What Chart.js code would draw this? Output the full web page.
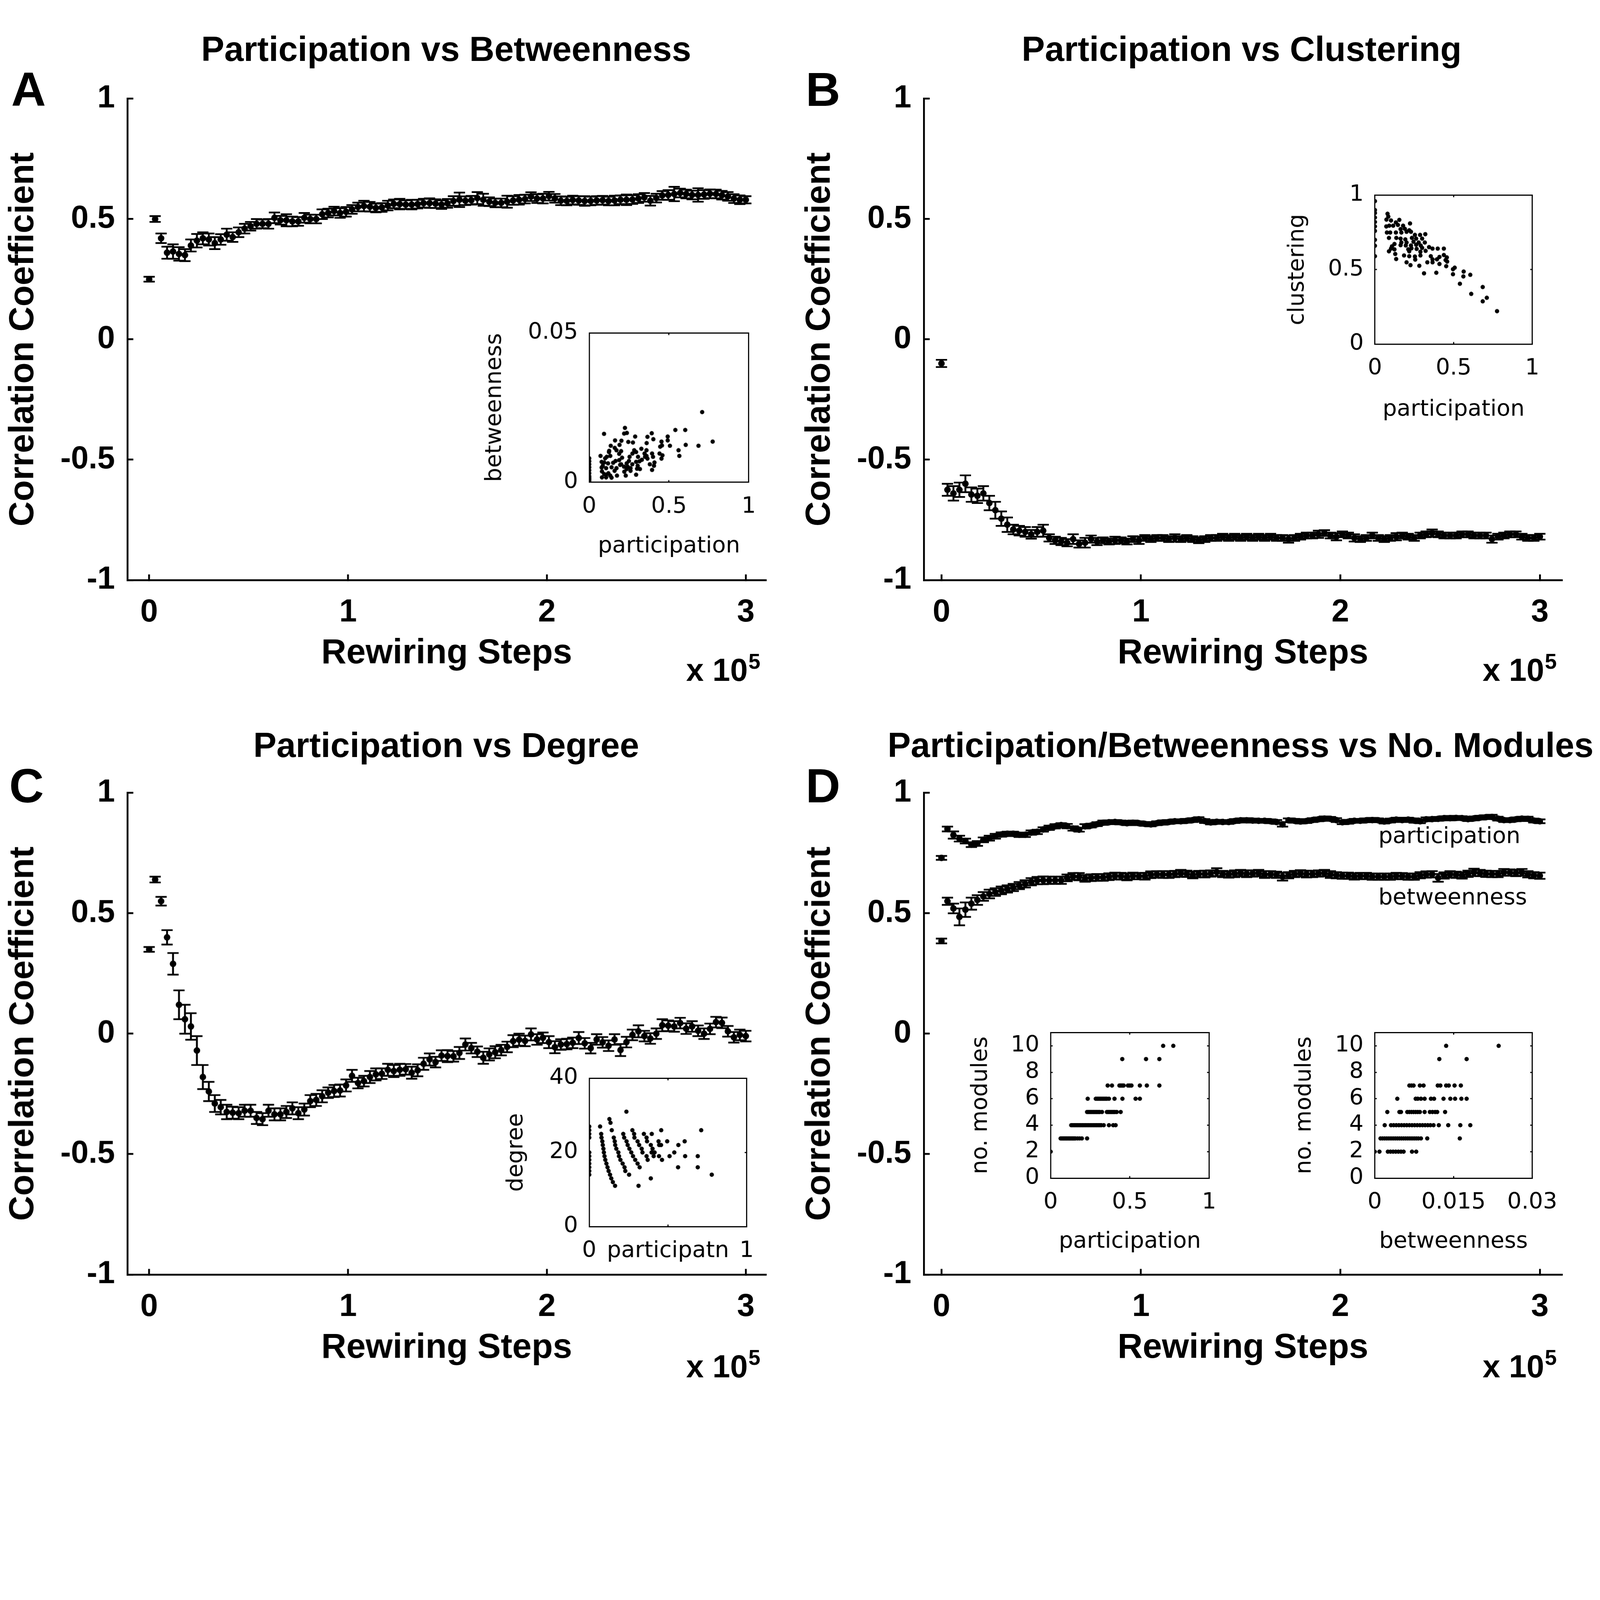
<!DOCTYPE html>
<html><head><meta charset="utf-8"><title>Participation correlations vs rewiring steps</title>
<script src="https://cdn.jsdelivr.net/npm/chart.js@4.4.1/dist/chart.umd.min.js"></script>
<style>
html,body{margin:0;padding:0;background:#fff;overflow:hidden;}
#page{position:relative;background:#fff;overflow:hidden;}
#page canvas{position:absolute;}
.t{position:absolute;white-space:nowrap;color:#000;line-height:1;}
</style></head><body><div id="page"></div>
<script>
// ---------------- DATA ----------------
// rewiring steps (thousands)
const stepsK = [0,3,6,9,12,15,18,21,24,27,30,33,36,39,42,45,48,51,54,57,60,63,66,69,72,75,78,81,84,87,90,93,96,99,102,105,108,111,114,117,120,123,126,129,132,135,138,141,144,147,150,153,156,159,162,165,168,171,174,177,180,183,186,189,192,195,198,201,204,207,210,213,216,219,222,225,228,231,234,237,240,243,246,249,252,255,258,261,264,267,270,273,276,279,282,285,288,291,294,297,300];
const mainXTicks = [0,100000,200000,300000];
const mainYTicks = [-1,-0.5,0,0.5,1];

// A: participation vs betweenness
const corrA = [0.25,0.50,0.42,0.36,0.365,0.355,0.35,0.39,0.41,0.42,
0.415,0.40,0.415,0.435,0.425,0.445,0.46,0.47,0.48,0.48,
0.48,0.505,0.495,0.495,0.49,0.49,0.505,0.50,0.50,0.52,
0.525,0.533,0.525,0.53,0.54,0.55,0.554,0.551,0.546,0.548,
0.556,0.563,0.562,0.56,0.56,0.562,0.566,0.566,0.564,0.56,
0.565,0.575,0.58,0.576,0.578,0.587,0.58,0.572,0.567,0.567,
0.572,0.577,0.58,0.583,0.593,0.585,0.585,0.595,0.586,0.576,
0.575,0.579,0.577,0.575,0.575,0.577,0.578,0.575,0.577,0.58,
0.58,0.581,0.585,0.59,0.576,0.587,0.598,0.60,0.604,0.608,
0.604,0.60,0.60,0.602,0.605,0.604,0.599,0.594,0.585,0.58,
0.58];
const errA = [0.010,0.012,0.020,0.025,0.030,0.028,0.025,0.025,0.028,0.025,
0.025,0.025,0.022,0.025,0.020,0.020,0.020,0.018,0.020,0.018,
0.020,0.022,0.018,0.025,0.020,0.018,0.020,0.018,0.018,0.020,
0.018,0.018,0.020,0.020,0.018,0.018,0.022,0.020,0.018,0.018,
0.020,0.018,0.022,0.018,0.020,0.018,0.018,0.020,0.018,0.018,
0.018,0.020,0.030,0.018,0.018,0.025,0.025,0.018,0.018,0.018,
0.025,0.018,0.020,0.018,0.018,0.018,0.020,0.018,0.018,0.018,
0.018,0.018,0.018,0.020,0.018,0.018,0.018,0.018,0.020,0.018,
0.022,0.018,0.018,0.018,0.020,0.018,0.018,0.020,0.030,0.018,
0.018,0.018,0.028,0.018,0.018,0.018,0.018,0.018,0.018,0.018,
0.015];

// B: participation vs clustering
const corrB = [-0.10,-0.625,-0.64,-0.625,-0.60,-0.645,-0.65,-0.64,-0.68,-0.71,
-0.745,-0.77,-0.79,-0.795,-0.80,-0.81,-0.80,-0.795,-0.825,-0.835,
-0.84,-0.845,-0.83,-0.85,-0.845,-0.83,-0.84,-0.835,-0.84,-0.835,
-0.835,-0.84,-0.83,-0.835,-0.825,-0.83,-0.825,-0.825,-0.83,-0.825,
-0.83,-0.825,-0.83,-0.835,-0.83,-0.825,-0.825,-0.82,-0.825,-0.82,
-0.825,-0.82,-0.825,-0.82,-0.825,-0.82,-0.825,-0.825,-0.83,-0.825,
-0.82,-0.815,-0.815,-0.81,-0.805,-0.815,-0.82,-0.81,-0.815,-0.825,
-0.83,-0.825,-0.815,-0.825,-0.83,-0.825,-0.82,-0.815,-0.82,-0.825,
-0.815,-0.81,-0.805,-0.81,-0.815,-0.815,-0.815,-0.81,-0.81,-0.815,
-0.815,-0.815,-0.83,-0.82,-0.815,-0.81,-0.81,-0.82,-0.825,-0.825,
-0.82];
const errB = [0.015,0.025,0.030,0.030,0.035,0.030,0.030,0.030,0.030,0.035,
0.030,0.030,0.020,0.020,0.020,0.018,0.020,0.025,0.015,0.015,
0.015,0.015,0.020,0.015,0.020,0.015,0.015,0.012,0.012,0.015,
0.012,0.012,0.012,0.015,0.012,0.012,0.012,0.012,0.012,0.015,
0.012,0.012,0.012,0.012,0.012,0.012,0.012,0.012,0.012,0.012,
0.012,0.012,0.012,0.012,0.012,0.012,0.012,0.012,0.015,0.012,
0.012,0.012,0.012,0.015,0.012,0.012,0.015,0.012,0.012,0.015,
0.012,0.012,0.012,0.012,0.012,0.012,0.015,0.012,0.012,0.012,
0.012,0.012,0.015,0.012,0.012,0.012,0.012,0.012,0.012,0.012,
0.012,0.012,0.015,0.012,0.012,0.012,0.012,0.012,0.012,0.012,
0.012];

// C: participation vs degree
const corrC = [0.35,0.64,0.55,0.40,0.29,0.12,0.06,0.03,-0.07,-0.18,
-0.24,-0.29,-0.305,-0.325,-0.328,-0.33,-0.32,-0.32,-0.35,-0.355,
-0.32,-0.335,-0.335,-0.325,-0.31,-0.33,-0.315,-0.28,-0.275,-0.26,
-0.245,-0.238,-0.236,-0.215,-0.175,-0.205,-0.197,-0.18,-0.169,-0.166,
-0.15,-0.155,-0.15,-0.148,-0.162,-0.152,-0.125,-0.107,-0.118,-0.091,
-0.093,-0.094,-0.08,-0.045,-0.06,-0.075,-0.10,-0.086,-0.077,-0.068,
-0.055,-0.031,-0.025,-0.03,-0.003,-0.024,-0.017,-0.035,-0.056,-0.045,
-0.043,-0.038,-0.018,-0.04,-0.06,-0.024,-0.036,-0.05,-0.024,-0.068,
-0.035,-0.005,0.01,-0.01,-0.02,0.0,0.035,0.033,0.03,0.044,
0.021,0.03,0.012,0.0,0.02,0.048,0.045,0.01,-0.015,-0.005,
-0.01];
const errC = [0.010,0.012,0.018,0.030,0.045,0.060,0.060,0.055,0.060,0.050,
0.040,0.035,0.030,0.030,0.025,0.025,0.025,0.025,0.025,0.025,
0.025,0.025,0.025,0.025,0.025,0.025,0.025,0.025,0.025,0.025,
0.022,0.025,0.025,0.025,0.025,0.022,0.022,0.025,0.025,0.022,
0.025,0.025,0.025,0.022,0.025,0.025,0.025,0.025,0.022,0.022,
0.025,0.022,0.025,0.025,0.022,0.022,0.025,0.025,0.025,0.022,
0.022,0.025,0.025,0.022,0.025,0.022,0.022,0.025,0.025,0.022,
0.022,0.022,0.025,0.022,0.022,0.022,0.022,0.022,0.022,0.025,
0.022,0.022,0.025,0.022,0.022,0.022,0.025,0.022,0.022,0.022,
0.022,0.022,0.022,0.022,0.022,0.022,0.022,0.022,0.022,0.022,
0.022];

// D: participation / betweenness vs number of modules
const corrDpart = [0.73,0.85,0.825,0.81,0.80,0.785,0.79,0.805,0.812,0.82,
0.827,0.83,0.83,0.826,0.826,0.835,0.838,0.848,0.855,0.861,
0.866,0.862,0.852,0.847,0.861,0.864,0.87,0.876,0.878,0.879,
0.877,0.874,0.876,0.874,0.871,0.869,0.874,0.877,0.879,0.882,
0.882,0.884,0.887,0.89,0.883,0.877,0.88,0.879,0.879,0.883,
0.886,0.886,0.885,0.884,0.884,0.882,0.879,0.869,0.886,0.884,
0.881,0.883,0.887,0.89,0.893,0.892,0.887,0.878,0.88,0.884,
0.884,0.886,0.887,0.886,0.881,0.885,0.889,0.887,0.889,0.885,
0.882,0.89,0.891,0.892,0.895,0.895,0.896,0.895,0.891,0.894,
0.897,0.899,0.90,0.893,0.887,0.887,0.89,0.893,0.892,0.885,
0.882];
const errDpart = [0.008,0.010,0.015,0.012,0.010,0.010,0.010,0.010,0.010,0.010,
0.009,0.009,0.009,0.009,0.009,0.009,0.009,0.009,0.009,0.009,
0.008,0.009,0.009,0.008,0.009,0.008,0.008,0.009,0.008,0.008,
0.008,0.008,0.009,0.008,0.008,0.008,0.008,0.009,0.008,0.008,
0.008,0.008,0.008,0.009,0.008,0.008,0.008,0.008,0.008,0.008,
0.008,0.009,0.008,0.008,0.008,0.008,0.008,0.009,0.008,0.008,
0.008,0.008,0.008,0.008,0.009,0.008,0.008,0.008,0.008,0.008,
0.008,0.008,0.009,0.008,0.008,0.008,0.008,0.008,0.008,0.009,
0.008,0.008,0.008,0.008,0.008,0.009,0.008,0.008,0.008,0.008,
0.008,0.008,0.009,0.008,0.008,0.008,0.008,0.008,0.009,0.008,
0.008];
const corrDbetw = [0.385,0.55,0.52,0.485,0.515,0.54,0.555,0.57,0.58,0.588,
0.595,0.601,0.607,0.615,0.622,0.631,0.636,0.637,0.637,0.637,
0.637,0.647,0.653,0.652,0.645,0.648,0.649,0.649,0.652,0.655,
0.654,0.651,0.655,0.654,0.654,0.66,0.662,0.661,0.661,0.663,
0.666,0.664,0.659,0.663,0.663,0.665,0.671,0.663,0.661,0.664,
0.667,0.664,0.665,0.667,0.661,0.662,0.66,0.652,0.658,0.663,
0.666,0.663,0.663,0.665,0.667,0.661,0.658,0.656,0.656,0.653,
0.655,0.655,0.652,0.652,0.652,0.652,0.655,0.654,0.652,0.652,
0.658,0.661,0.662,0.647,0.657,0.662,0.66,0.657,0.664,0.67,
0.667,0.664,0.663,0.663,0.67,0.669,0.667,0.67,0.662,0.658,
0.656];
const errDbetw = [0.010,0.015,0.020,0.035,0.030,0.025,0.020,0.018,0.018,0.016,
0.016,0.015,0.015,0.015,0.015,0.015,0.015,0.016,0.015,0.015,
0.015,0.014,0.014,0.015,0.014,0.014,0.014,0.014,0.014,0.014,
0.014,0.014,0.014,0.013,0.014,0.014,0.013,0.014,0.014,0.013,
0.014,0.013,0.014,0.013,0.014,0.013,0.016,0.013,0.013,0.014,
0.013,0.014,0.013,0.013,0.014,0.013,0.013,0.016,0.013,0.013,
0.013,0.014,0.013,0.013,0.013,0.014,0.013,0.013,0.013,0.013,
0.013,0.013,0.013,0.013,0.013,0.013,0.013,0.013,0.013,0.013,
0.013,0.013,0.013,0.016,0.013,0.013,0.013,0.013,0.013,0.015,
0.013,0.013,0.013,0.013,0.014,0.013,0.013,0.014,0.013,0.013,
0.013];

// Inset A: [participation, betweenness]
const insetA_points = [[0,0],[0,0.0005],[0,0.001],[0,0.0015],[0,0.002],[0,0.003],[0,0.004],[0,0.005],[0,0.006],[0,0.007],[0,0.008],
[0.093,0.0162],[0.224,0.0182],[0.219,0.0163],[0.236,0.0165],[0.288,0.0153],[0.392,0.0164],[0.365,0.0152],[0.402,0.0144],[0.162,0.014],[0.202,0.0139],[0.245,0.0135],[0.274,0.0133],[0.36,0.0131],[0.492,0.0153],[0.492,0.014],[0.453,0.0136],[0.54,0.0175],[0.602,0.0175],[0.708,0.0235],[0.774,0.0136],[0.605,0.0125],[0.685,0.0122],[0.506,0.0122],[0.445,0.0119],[0.456,0.0123],[0.56,0.0107],[0.565,0.0088],[0.135,0.0122],[0.171,0.0107],[0.2,0.0104],[0.188,0.0095],[0.124,0.0101],[0.132,0.0088],[0.071,0.0088],[0.1,0.008],[0.078,0.0068],[0.094,0.0066],[0.118,0.0063],[0.085,0.0055],[0.106,0.0047],[0.078,0.0049],[0.08,0.0036],[0.094,0.0027],[0.08,0.0016],[0.106,0.0016],[0.106,0.0025],[0.132,0.0022],[0.159,0.0038],[0.171,0.0047],[0.174,0.0022],[0.165,0.0071],[0.188,0.0074],[0.206,0.0082],[0.194,0.0058],[0.218,0.0052],[0.235,0.0063],[0.249,0.0071],[0.229,0.0022],[0.241,0.0052],[0.259,0.0038],[0.253,0.0085],[0.271,0.0096],[0.282,0.0107],[0.294,0.0101],[0.294,0.0025],[0.306,0.0085],[0.315,0.007],[0.318,0.0044],[0.304,0.0055],[0.327,0.0112],[0.347,0.0096],[0.35,0.0085],[0.359,0.0107],[0.365,0.0079],[0.359,0.0088],[0.394,0.0096],[0.4,0.0085],[0.409,0.0066],[0.406,0.0055],[0.394,0.0041],[0.441,0.0096],[0.453,0.0079],[0.459,0.009],[0.235,0.0044],[0.259,0.0047],[0.294,0.0068],
[0.12,0.003],[0.14,0.005],[0.15,0.0065],[0.2,0.006],[0.22,0.0035],[0.27,0.006],[0.3,0.0045],[0.14,0.0015],[0.11,0.0085],[0.125,0.0105],[0.16,0.0115],[0.19,0.0125],[0.33,0.0075],[0.38,0.006]];

// Inset B: [participation, clustering]
const insetB_points = [[0,0.96],[0,0.9],[0,0.88],[0,0.85],[0,0.82],[0,0.79],[0,0.76],[0,0.7],[0,0.66],[0,0.59],
[0.08,0.875],[0.085,0.856],[0.073,0.836],[0.102,0.83],[0.133,0.817],[0.155,0.834],[0.072,0.79],[0.091,0.795],[0.116,0.795],[0.146,0.8],[0.179,0.795],[0.223,0.81],[0.19,0.774],[0.163,0.772],[0.218,0.764],[0.076,0.749],[0.097,0.749],[0.133,0.749],[0.168,0.749],[0.201,0.754],[0.229,0.754],[0.254,0.733],[0.287,0.733],[0.32,0.738],[0.089,0.713],[0.136,0.713],[0.163,0.708],[0.193,0.703],[0.235,0.713],[0.262,0.708],[0.3,0.708],[0.168,0.682],[0.201,0.682],[0.245,0.687],[0.278,0.682],[0.317,0.682],[0.163,0.664],[0.196,0.662],[0.229,0.662],[0.262,0.667],[0.291,0.662],[0.124,0.672],[0.108,0.656],[0.102,0.641],[0.124,0.636],[0.089,0.623],[0.212,0.636],[0.232,0.643],[0.265,0.639],[0.3,0.646],[0.344,0.651],[0.322,0.626],[0.366,0.641],[0.399,0.641],[0.438,0.641],[0.289,0.62],[0.218,0.623],[0.129,0.605],[0.135,0.571],[0.185,0.595],[0.218,0.59],[0.254,0.588],[0.289,0.595],[0.355,0.59],[0.366,0.569],[0.41,0.585],[0.438,0.598],[0.457,0.582],[0.256,0.567],[0.394,0.569],[0.449,0.564],[0.459,0.554],[0.333,0.549],[0.366,0.549],[0.41,0.538],[0.453,0.523],[0.201,0.549],[0.226,0.53],[0.282,0.526],[0.312,0.475],[0.39,0.479],[0.496,0.503],[0.507,0.513],[0.496,0.469],[0.564,0.487],[0.562,0.454],[0.606,0.465],[0.54,0.405],[0.612,0.337],[0.685,0.383],[0.711,0.311],[0.685,0.287],[0.776,0.221]];

// Inset C: [participation, degree]
const insetC_points = [[0,14],[0,15],[0,16],[0,17],[0,18],[0,19],[0,20],[0,24],[0,25],[0,26],[0,27],
[0.069,27],[0.076,25],[0.078,24],[0.083,23],[0.086,22],[0.09,21],[0.093,20],[0.097,19],[0.102,18],[0.109,17],[0.116,16],[0.123,15],[0.132,14],[0.14,13],[0.15,12],[0.164,11],
[0.128,29],[0.135,28],[0.143,26],[0.156,24],[0.162,23],[0.165,22],[0.172,21],[0.185,20],[0.189,19],[0.198,18],[0.212,17],[0.224,16],[0.229,15],[0.253,14],
[0.236,31],[0.216,25],[0.222,24],[0.237,23],[0.244,22],[0.255,21],[0.267,20],[0.278,19],[0.292,18],[0.307,17],[0.32,16],[0.313,11],
[0.274,26],[0.285,25],[0.287,24],[0.307,23],[0.317,22],[0.333,21],[0.338,20],[0.364,19],[0.371,18],
[0.347,25],[0.364,24],[0.367,23],[0.391,22],[0.402,21],[0.396,20],[0.409,19],[0.397,25],[0.391,13],
[0.457,26],[0.44,23],[0.444,22],[0.456,22],[0.415,20],[0.443,19],[0.462,18],[0.495,23],[0.51,19],[0.54,20],[0.566,22],[0.606,23],[0.609,19],[0.564,16],[0.689,19],[0.689,16],[0.711,26],[0.778,14]];

// Inset D: number of modules levels, participation / betweenness per level
const dModuleLevels = [2,3,4,5,6,7,9,10];
const dPartByLevel = [
 [0],
 [0.063,0.07,0.077,0.083,0.09,0.097,0.103,0.11,0.117,0.123,0.13,0.137,0.143,0.15,0.157,0.17,0.183,0.197,0.23],
 [0.13,0.14,0.15,0.16,0.17,0.18,0.19,0.2,0.21,0.22,0.23,0.24,0.25,0.26,0.27,0.28,0.29,0.3,0.31,0.32,0.335,0.368,0.395,0.41],
 [0.23,0.24,0.25,0.26,0.27,0.28,0.29,0.3,0.31,0.324,0.355,0.365,0.375,0.385,0.395,0.405,0.417,0.442],
 [0.234,0.285,0.295,0.305,0.315,0.325,0.335,0.345,0.355,0.368,0.403,0.453,0.536,0.563],
 [0.36,0.387,0.434,0.443,0.452,0.461,0.488,0.499,0.51,0.563,0.607,0.686],
 [0.452,0.602,0.686],
 [0.71,0.774]];
const dBetwByLevel = [
 [0,0.0009,0.0025,0.003,0.0035,0.004,0.0045,0.005,0.0055,0.0071,0.0079],
 [0.0011,0.0015,0.0019,0.0023,0.0027,0.0031,0.0035,0.0039,0.0043,0.0047,0.0051,0.0055,0.0059,0.0063,0.0067,0.0071,0.0075,0.0079,0.0083,0.0088,0.01,0.0162],
 [0.0019,0.0031,0.0036,0.0041,0.0046,0.0051,0.0056,0.0061,0.0066,0.0071,0.0076,0.0081,0.0086,0.0091,0.0096,0.0101,0.0106,0.0112,0.0122,0.014,0.0163,0.0182],
 [0.0024,0.0047,0.005,0.0062,0.0066,0.007,0.0074,0.0078,0.0082,0.0086,0.0095,0.0105,0.011,0.0115,0.0119,0.0134],
 [0.0043,0.0078,0.0082,0.0088,0.0095,0.0107,0.0113,0.0131,0.0144,0.0153,0.0165,0.0175],
 [0.0066,0.007,0.0074,0.0086,0.0093,0.012,0.0125,0.0136,0.0141,0.0152,0.0164],
 [0.0123,0.0175],
 [0.0136,0.0236]];

// ---------------- RENDER ----------------
const VW = window.innerWidth || document.documentElement.clientWidth || 7707;
const S = VW / 1567;
const FM = '"Liberation Sans", Arial, Helvetica, sans-serif';
const FI = '"DejaVu Sans", "Liberation Sans", sans-serif';
const page = document.getElementById('page');
page.style.width = (1567 * S) + 'px';
page.style.height = (1365.4 * S) + 'px';

function txt(str, x, base, size, o) {
  o = o || {};
  const d = document.createElement('div');
  d.className = 't';
  d.textContent = str;
  d.style.fontFamily = o.family || FM;
  d.style.fontWeight = o.weight || 'normal';
  d.style.fontSize = (size * S) + 'px';
  d.style.top = ((base - 0.846 * size) * S) + 'px';
  d.style.left = (x * S) + 'px';
  if (o.center) d.style.transform = 'translateX(-50%)';
  page.appendChild(d);
}

function makeCanvas(l, t, r, b) {
  const wrap = document.createElement('div');
  const w = (r - l) * S, h = (b - t) * S;
  wrap.style.cssText = 'position:absolute;left:' + (l * S) + 'px;top:' + (t * S) + 'px;width:' + w + 'px;height:' + h + 'px;';
  const c = document.createElement('canvas');
  wrap.appendChild(c);
  page.appendChild(wrap);
  return c;
}

function mainChart(g) {
  const cv = makeCanvas(g.l, g.t, g.l + 760, g.t + 600.4);
  const ds = [];
  g.series.forEach(sr => {
    ds.push({type:'scatter', order:0,
      data: stepsK.map((k,i) => ({x:k*1000, y:sr.v[i]})),
      pointStyle:'circle', pointRadius:3.2*S, pointBackgroundColor:'#000', pointBorderColor:'#000', pointBorderWidth:0});
    const caps = [];
    stepsK.forEach((k,i) => { caps.push({x:k*1000, y:sr.v[i]+sr.e[i]}); caps.push({x:k*1000, y:sr.v[i]-sr.e[i]}); });
    ds.push({type:'scatter', order:1, data:caps, pointStyle:'line', pointRadius:5.5*S,
      pointBorderColor:'#000', pointBackgroundColor:'#000', pointBorderWidth:1.7*S});
    ds.push({type:'bar', order:2,
      data: stepsK.map((k,i) => ({x:k*1000, y:[sr.v[i]-sr.e[i], sr.v[i]+sr.e[i]]})),
      backgroundColor:'#000', borderWidth:0, barThickness:1.6*S, grouped:false});
  });
  const tickFont = {family:FM, size:31*S, weight:'bold', lineHeight:1.2};
  const titleFont = {family:FM, size:34*S, weight:'bold', lineHeight:1.2};
  new Chart(cv, {
    type:'scatter',
    data:{datasets:ds},
    options:{
      responsive:true, maintainAspectRatio:false, animation:false, events:[],
      layout:{padding:{top:28*S, right:10.5*S, bottom:0, left:0}},
      plugins:{legend:{display:false}, tooltip:{enabled:false}},
      scales:{
        x:{type:'linear', position:'bottom', min:g.xmin, max:g.xmax, offset:false,
          afterBuildTicks: s => { s.ticks = mainXTicks.map(v => ({value:v})); },
          afterFit: s => { s.height = 92.4*S; },
          grid:{offset:false, drawOnChartArea:false, drawTicks:true, tickLength:-5.5*S, color:'#000', lineWidth:1.8*S},
          border:{display:true, color:'#000', width:1.8*S},
          ticks:{color:'#000', font:tickFont, padding:18.9*S, maxRotation:0, autoSkip:false, callback: v => String(v/100000)},
          title:{display:true, text:'Rewiring Steps', color:'#000', font:titleFont, padding:{top:0, bottom:0}}
        },
        y:{type:'linear', position:'left', min:-1, max:1, offset:false, beginAtZero:false,
          afterBuildTicks: s => { s.ticks = mainYTicks.map(v => ({value:v})); },
          afterFit: s => { s.width = 125*S; },
          grid:{offset:false, drawOnChartArea:false, drawTicks:true, tickLength:-5.5*S, color:'#000', lineWidth:1.8*S},
          border:{display:true, color:'#000', width:1.8*S},
          ticks:{color:'#000', font:tickFont, padding:18*S, autoSkip:false, callback: v => String(v)},
          title:{display:true, text:'Correlation Coefficient', color:'#000', font:titleFont, padding:{top:2.6*S, bottom:0}}
        }
      }
    }
  });
}

function insetChart(g) {
  const cv = makeCanvas(g.L, g.T, g.R, g.B);
  const f = () => ({family:FI, size:22*S, weight:'normal', lineHeight:1.2});
  const grid = () => ({offset:false, drawOnChartArea:false, drawTicks:true, tickLength:-2*S, color:'#000', lineWidth:1.1*S});
  const border = () => ({display:true, color:'#000', width:1.1*S});
  const xtb = s => { s.ticks = g.xt.map(v => ({value:v})); };
  const ytb = s => { s.ticks = g.yt.map(v => ({value:v})); };
  new Chart(cv, {
    type:'scatter',
    data:{datasets:[{data:g.pts.map(p => ({x:p[0], y:p[1]})), pointStyle:'star',
      pointRadius:2.1*S, pointBorderWidth:1.3*S, pointBorderColor:'#000', pointBackgroundColor:'#000'}]},
    options:{
      responsive:true, maintainAspectRatio:false, animation:false, events:[],
      layout:{padding:{top:(g.box[2]-g.T)*S, right:(g.R-g.box[1])*S, bottom:0, left:0}},
      plugins:{legend:{display:false}, tooltip:{enabled:false}},
      scales:{
        x:{type:'linear', position:'bottom', min:g.xmin, max:g.xmax, afterBuildTicks:xtb,
          afterFit: s => { s.height = (g.B - g.box[3])*S; },
          grid:grid(), border:border(),
          ticks:{color:'#000', font:f(), padding:13*S, maxRotation:0, autoSkip:false, callback:(v,i) => g.xl[i]},
          title:{display:!!g.xtitle, text:g.xtitle || '', color:'#000', font:f(), padding:{top:0, bottom:0}}},
        y:{type:'linear', position:'left', min:g.ymin, max:g.ymax, afterBuildTicks:ytb,
          afterFit: s => { s.width = (g.box[0] - g.L)*S; },
          grid:grid(), border:border(),
          ticks:{color:'#000', font:f(), padding:13*S, autoSkip:false, callback:(v,i) => g.yl[i]},
          title:{display:true, text:g.ytitle, color:'#000', font:f(), padding:{top:0, bottom:0}}},
        x2:{type:'linear', position:'top', min:g.xmin, max:g.xmax, afterBuildTicks:xtb,
          afterFit: s => { s.height = 0; }, grid:grid(), border:border(), ticks:{display:false}},
        y2:{type:'linear', position:'right', min:g.ymin, max:g.ymax, afterBuildTicks:ytb,
          afterFit: s => { s.width = 0; }, grid:grid(), border:border(), ticks:{display:false}}
      }
    }
  });
}

// main panels
mainChart({l:0,   t:60,  xmin:-10788, xmax:310000, series:[{v:corrA, e:errA}]});
mainChart({l:780, t:60,  xmin:-8703,  xmax:311000, series:[{v:corrB, e:errB}]});
mainChart({l:0,   t:740, xmin:-10788, xmax:310000, series:[{v:corrC, e:errC}]});
mainChart({l:780, t:740, xmin:-8703,  xmax:311000, series:[{v:corrDpart, e:errDpart},{v:corrDbetw, e:errDbetw}]});

// insets
insetChart({L:471.8, T:300, R:755, B:548.2, box:[577,733,317,472],
  xmin:0, xmax:1, xt:[0,0.5,1], xl:['0','0.5','1'],
  ymin:0, ymax:0.05, yt:[0,0.05], yl:['0','0.05'],
  xtitle:'participation', ytitle:'betweenness', pts:insetA_points});
insetChart({L:1257.8, T:165, R:1525, B:414.2, box:[1346.5,1500.6,182.6,336.8],
  xmin:0, xmax:1, xt:[0,0.5,1], xl:['0','0.5','1'],
  ymin:0, ymax:1, yt:[0,0.5,1], yl:['0','0.5','1'],
  xtitle:'participation', ytitle:'clustering', pts:insetB_points});
insetChart({L:492.8, T:1030, R:755, B:1245, box:[577,731,1048.6,1201.4],
  xmin:0, xmax:1, xt:[0,0.5,1], xl:['0','participatn','1'],
  ymin:0, ymax:40, yt:[0,20,40], yl:['0','20','40'],
  xtitle:'', ytitle:'degree', pts:insetC_points});
const dPartPts = [], dBetwPts = [];
dModuleLevels.forEach((m, j) => {
  dPartByLevel[j].forEach(x => dPartPts.push([x, m]));
  dBetwByLevel[j].forEach(x => dBetwPts.push([x, m]));
});
insetChart({L:947.8, T:985, R:1205, B:1229.2, box:[1029,1184,1000.4,1153.7],
  xmin:0, xmax:1, xt:[0,0.5,1], xl:['0','0.5','1'],
  ymin:0, ymax:11, yt:[0,2,4,6,8,10], yl:['0','2','4','6','8','10'],
  xtitle:'participation', ytitle:'no. modules', pts:dPartPts});
insetChart({L:1264.8, T:985, R:1545, B:1229.2, box:[1346.4,1500.7,1000.4,1153.7],
  xmin:0, xmax:0.03, xt:[0,0.015,0.03], xl:['0','0.015','0.03'],
  ymin:0, ymax:11, yt:[0,2,4,6,8,10], yl:['0','2','4','6','8','10'],
  xtitle:'betweenness', ytitle:'no. modules', pts:dBetwPts});

// texts
txt('Participation vs Betweenness', 437, 60, 34, {weight:'bold', center:true});
txt('Participation vs Clustering', 1216, 60, 34, {weight:'bold', center:true});
txt('Participation vs Degree', 437, 742, 34, {weight:'bold', center:true});
txt('Participation/Betweenness vs No. Modules', 1215, 742, 34, {weight:'bold', center:true});
txt('A', 11, 104, 47, {weight:'bold'});
txt('B', 789, 104, 47, {weight:'bold'});
txt('C', 9, 786, 47, {weight:'bold'});
txt('D', 789, 786, 47, {weight:'bold'});
[[672,667],[1452,667],[672,1349],[1452,1349]].forEach(p => {
  txt('x 10', p[0], p[1], 31, {weight:'bold'});
  txt('5', p[0] + 61, p[1] - 12, 21, {weight:'bold'});
});
txt('participation', 1350, 826, 22, {family:FI});
txt('betweenness', 1350, 886, 22, {family:FI});
</script></body></html>
